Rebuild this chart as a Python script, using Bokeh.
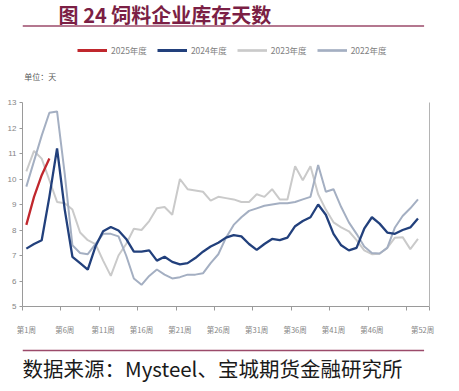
from bokeh.plotting import figure
from bokeh.layouts import column
from bokeh.models import Range1d, FixedTicker, LinearAxis, Legend, LegendItem
from bokeh.core.properties import value
from bokeh.embed import file_html
from bokeh.resources import INLINE

# ---------------- data ----------------
weeks = list(range(1, 53))
y2025 = [8.2, 9.3, 10.15, 10.8]
y2024 = [7.27, 7.45, 7.6, 9.3, 11.2, 8.8, 6.95, 6.7, 6.45, 7.35,
         7.95, 8.12, 7.98, 7.65, 7.15, 7.15, 7.2, 6.8, 6.95, 6.75,
         6.65, 6.7, 6.9, 7.15, 7.35, 7.5, 7.7, 7.8, 7.75, 7.45,
         7.22, 7.45, 7.65, 7.6, 7.7, 8.15, 8.35, 8.5, 9.0, 8.6,
         7.85, 7.4, 7.2, 7.3, 8.05, 8.5, 8.25, 7.9, 7.85, 8.0,
         8.1, 8.45]
y2023 = [10.3, 11.1, 10.8, 9.95, 9.1, 9.05, 8.8, 7.9, 7.6, 7.45,
         6.8, 6.2, 7.0, 7.45, 8.05, 8.0, 8.35, 8.85, 8.9, 8.6,
         10.0, 9.6, 9.55, 9.5, 9.15, 9.3, 9.25, 9.2, 9.1, 9.1,
         9.4, 9.3, 9.6, 9.2, 9.2, 10.5, 9.95, 10.5, 9.4, 8.8,
         8.3, 8.1, 7.95, 7.6, 7.2, 7.05, 7.07, 7.3, 7.7, 7.72,
         7.25, 7.65]
y2022 = [9.7, 10.7, 11.7, 12.6, 12.65, 10.2, 7.4, 7.1, 7.05, 7.45,
         7.85, 7.85, 7.75, 7.0, 6.1, 5.85, 6.2, 6.45, 6.25, 6.1,
         6.15, 6.25, 6.25, 6.3, 6.7, 7.05, 7.7, 8.2, 8.5, 8.75,
         8.85, 8.95, 9.0, 9.05, 9.05, 9.1, 9.2, 9.3, 10.55, 9.5,
         9.6, 8.9, 8.3, 7.85, 7.35, 7.1, 7.08, 7.3, 8.1, 8.55,
         8.85, 9.2]
series_names = ["2025年度", "2024年度", "2023年度", "2022年度"]
y_ticks = [5, 6, 7, 8, 9, 10, 11, 12, 13]
x_label_weeks = [1, 6, 11, 16, 21, 26, 31, 36, 41, 46, 52]
x_labels = ["第1周", "第6周", "第11周", "第16周", "第21周", "第26周",
            "第31周", "第36周", "第41周", "第46周", "第52周"]
title_text = "图 24 饲料企业库存天数"
unit_text = "单位：天"
source_text = "数据来源：Mysteel、宝城期货金融研究所"

# ---------------- styles ----------------
W = 451
FONT = "Noto Sans CJK SC"
CJK = value(FONT)
maroon = "#7b1f45"
rule_color = "#9b4a6a"
colors = ["#c0272d", "#22407c", "#cacaca", "#a4afc2"]
widths = [2.3, 2.3, 2.0, 2.0]

# ---------------- header (title, rule, legend, unit) ----------------
HH = 92
hdr = figure(width=W, height=HH, x_range=Range1d(0, W), y_range=Range1d(HH, 0),
             x_axis_type=None, y_axis_type=None, toolbar_location=None,
             output_backend="svg", min_border=0, outline_line_color=None)
hdr.text(x=[40], y=[14], text=[title_text], text_font=CJK, text_font_size="20px",
         text_font_style="bold", text_color=maroon, text_baseline="middle", text_align="left")
hdr.segment(x0=[0], y0=[25.5], x1=[445], y1=[25.5], line_color=rule_color, line_width=1.5)
hdr.text(x=[2], y=[76], text=[unit_text], text_font=CJK, text_font_size="8px",
         text_color="#595959", text_baseline="middle", text_align="left")
# legend keys: line renderers kept outside the visible header range
key_renderers = [hdr.line(x=[-20, -10], y=[-20, -20], line_color=c, line_width=w + 0.7)
                 for c, w in zip(colors, widths)]
legend = Legend(items=[LegendItem(label=n, renderers=[r]) for n, r in zip(series_names, key_renderers)],
                location=(55, 36), orientation="horizontal",
                glyph_width=30, glyph_height=10, label_standoff=4, spacing=10,
                padding=4, margin=0, border_line_color=None, background_fill_alpha=0,
                label_text_font=FONT, label_text_font_size="8.5px", label_text_color="#808080")
hdr.add_layout(legend)

# ---------------- main plot ----------------
p = figure(width=W, height=245, x_range=Range1d(0.5, 53.5), y_range=Range1d(5, 13),
           toolbar_location=None, output_backend="svg",
           min_border_left=22, min_border_right=22, min_border_top=10, min_border_bottom=30,
           outline_line_color=None)
p.grid.visible = False

p.line(weeks, y2023, line_color=colors[2], line_width=widths[2])
p.line(weeks, y2022, line_color=colors[3], line_width=widths[3])
p.line(weeks, y2024, line_color=colors[1], line_width=widths[1])
p.line(weeks[:len(y2025)], y2025, line_color=colors[0], line_width=widths[0])

label_pos = [float(w) for w in x_label_weeks[:-1]] + [x_label_weeks[-1] + 0.6]
bounds = [0.5 + 5 * i for i in range(11)] + [53.5]
xa = p.xaxis[0]
xa.ticker = FixedTicker(ticks=label_pos, minor_ticks=bounds)
xa.major_label_overrides = {pos: lab for pos, lab in zip(label_pos, x_labels)}
xa.major_tick_out = 0
xa.major_tick_in = 0
xa.minor_tick_out = 4
xa.minor_tick_in = 0
xa.minor_tick_line_color = "#9a9a9a"
xa.axis_line_color = "#9a9a9a"
xa.major_label_standoff = 13
xa.major_label_text_font = FONT
xa.major_label_text_font_size = "7.5px"
xa.major_label_text_color = "#858585"

ya = p.yaxis[0]
ya.ticker = FixedTicker(ticks=y_ticks)
ya.major_tick_out = 3
ya.major_tick_in = 0
ya.minor_tick_line_color = None
ya.major_tick_line_color = "#9a9a9a"
ya.axis_line_color = "#9a9a9a"
ya.major_label_standoff = 3
ya.major_label_text_font_size = "8px"
ya.major_label_text_color = "#858585"

ra = LinearAxis(ticker=FixedTicker(ticks=[]), axis_line_color="#b4b4b4",
                major_tick_line_color=None, minor_tick_line_color=None,
                major_label_text_font_size="0px")
p.add_layout(ra, "right")

# ---------------- footer ----------------
ftr = figure(width=W, height=46, x_range=Range1d(0, W), y_range=Range1d(46, 0),
             x_axis_type=None, y_axis_type=None, toolbar_location=None,
             output_backend="svg", min_border=0, outline_line_color=None)
ftr.segment(x0=[0], y0=[13], x1=[445], y1=[13], line_color=rule_color, line_width=1.5)
ftr.text(x=[0], y=[30], text=[source_text], text_font=CJK, text_font_size="20.5px",
         text_color="#1a1a1a", text_baseline="middle", text_align="left")

layout = column(hdr, p, ftr, spacing=0)
open("out.html", "w").write(file_html(layout, INLINE))
